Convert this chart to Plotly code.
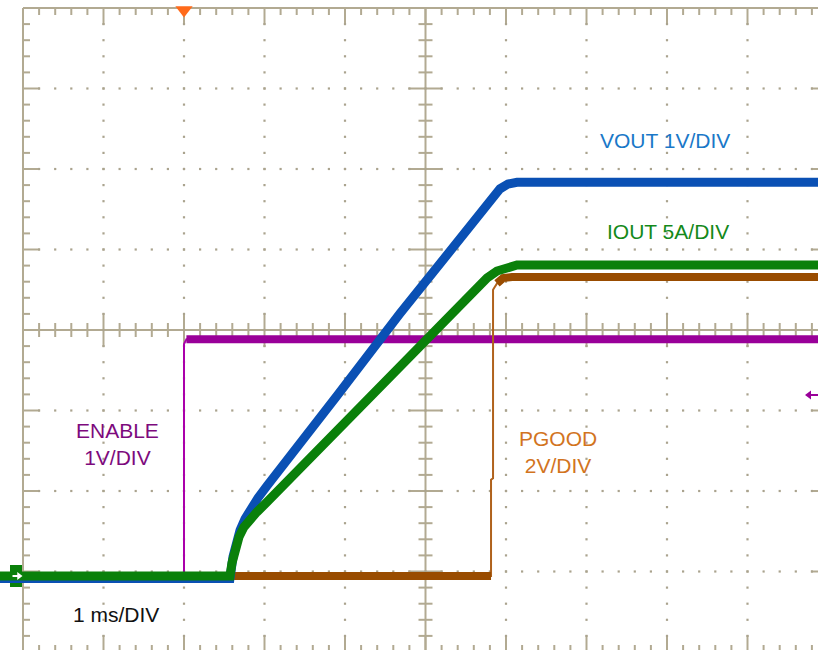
import plotly.graph_objects as go

# ---------------- data (oscilloscope capture) ----------------
# time base 1 ms/DIV, trigger at t = 0 ms
enable_t = [-2.3, 0.0, 0.0, 0.03, 7.9]
enable_v = [0.0, 0.0, 2.88, 2.94, 2.94]          # V, 1 V/DIV

vout_t = [-2.3, 0.571, 0.609, 0.646, 0.696, 0.758, 0.832, 0.919, 1.031, 1.168,
          1.317, 1.901, 2.683, 3.516, 3.926, 4.025, 4.137, 7.9]
vout_v = [-0.03, -0.03, 0.24, 0.41, 0.57, 0.71, 0.85, 0.97, 1.12, 1.29,
          1.48, 2.24, 3.26, 4.31, 4.81, 4.87, 4.89, 4.89]   # V, 1 V/DIV

iout_t = [-2.3, 0.571, 0.596, 0.634, 0.683, 0.745, 0.820, 0.907, 1.019, 1.217,
          1.901, 2.721, 3.553, 3.764, 3.888, 4.012, 4.137, 7.9]
iout_a = [0.0, 0.0, 0.81, 1.68, 2.42, 3.04, 3.54, 3.98, 4.53, 5.53,
          9.01, 13.17, 17.52, 18.51, 18.94, 19.19, 19.32, 19.32]  # A, 5 A/DIV

pgood_t = [-2.3, 3.814, 3.814, 3.839, 3.839, 3.888, 3.963, 4.075, 7.9]
pgood_v = [0.0, 0.0, 2.39, 2.43, 7.11, 7.27, 7.40, 7.43, 7.43]     # V, 2 V/DIV

ENABLE_SCALE, VOUT_SCALE, IOUT_SCALE, PGOOD_SCALE = 1.0, 1.0, 5.0, 2.0
GROUND_DIV = -3.056

labels = ["VOUT 1V/DIV", "IOUT 5A/DIV", "ENABLE<br>1V/DIV", "PGOOD<br>2V/DIV", "1 ms/DIV"]

# ---------------- geometry ----------------
W, H = 818, 650
PX_PER_DIV = 80.5
X0_PX, CY_PX = 184.0, 330.0       # trigger position / centre line in pixels
XMIN = -X0_PX / PX_PER_DIV
XMAX = (W - X0_PX) / PX_PER_DIV
YMAX = CY_PX / PX_PER_DIV
YMIN = (CY_PX - H) / PX_PER_DIV
GRID = "#b2aa92"
DOT = "#aaa38e"


def px(n):
    return n / PX_PER_DIV


fig = go.Figure()

# ---------------- graticule ----------------
seg_x, seg_y = [], []


def seg(x0, y0, x1, y1):
    seg_x.extend([x0, x1, None])
    seg_y.extend([y0, y1, None])


TL, TS = px(17), px(7)
TLEFT, TRIGHT, TTOP, TBOT = -2.0, 8.0, 4.0, -4.0
# borders
seg(TLEFT, TBOT, TLEFT, TTOP)
seg(TLEFT, TTOP, TRIGHT, TTOP)
seg(TRIGHT, TBOT, TRIGHT, TTOP)
seg(TLEFT, TBOT, TRIGHT, TBOT)
# centre cross
seg(3.0, TBOT, 3.0, TTOP)
seg(TLEFT, 0.0, TRIGHT, 0.0)
for i in range(51):
    t = TLEFT + 0.2 * i
    L = TL if i % 5 == 0 else TS
    seg(t, TTOP, t, TTOP - L)
    seg(t, TBOT, t, TBOT + L)
    seg(t, -L, t, L)
for j in range(41):
    y = TBOT + 0.2 * j
    L = TL if j % 5 == 0 else TS
    seg(TLEFT, y, TLEFT + L, y)
    seg(TRIGHT, y, TRIGHT - L, y)
    seg(3.0 - L, y, 3.0 + L, y)

fig.add_trace(go.Scatter(x=seg_x, y=seg_y, mode="lines",
                         line=dict(color=GRID, width=2), hoverinfo="skip"))

dx, dy = [], []
for k in range(1, 10):
    if k == 5:
        continue
    t = TLEFT + k
    for j in range(1, 40):
        dx.append(t)
        dy.append(TBOT + 0.2 * j)
for k in range(1, 8):
    if k == 4:
        continue
    y = TBOT + k
    for i in range(1, 50):
        dx.append(TLEFT + 0.2 * i)
        dy.append(y)
fig.add_trace(go.Scatter(x=dx, y=dy, mode="markers",
                         marker=dict(symbol="square", size=2.2, color=DOT, line=dict(width=0)),
                         hoverinfo="skip"))


# ---------------- waveforms ----------------
def to_div(vals, scale):
    return [GROUND_DIV + v / scale for v in vals]


BAND = 9

# channel ground marker (left), drawn below the traces
fig.add_shape(type="rect", x0=XMIN + px(10), x1=XMIN + px(23),
              y0=GROUND_DIV - px(11), y1=GROUND_DIV + px(11),
              fillcolor="#0a800a", line=dict(width=0), layer="below")

en_y = to_div(enable_v, ENABLE_SCALE)
fig.add_trace(go.Scatter(x=enable_t, y=en_y, mode="lines",
                         line=dict(color="#aa00aa", width=2), hoverinfo="skip"))
fig.add_trace(go.Scatter(x=enable_t[:2] + [None] + enable_t[3:],
                         y=en_y[:2] + [None] + en_y[3:], mode="lines",
                         line=dict(color="#990099", width=BAND - 1), hoverinfo="skip"))

pg_y = to_div(pgood_v, PGOOD_SCALE)
fig.add_trace(go.Scatter(x=pgood_t, y=pg_y, mode="lines",
                         line=dict(color="#b0621c", width=2), hoverinfo="skip"))
fig.add_trace(go.Scatter(x=pgood_t[:2] + [None] + pgood_t[5:],
                         y=pg_y[:2] + [None] + pg_y[5:], mode="lines",
                         line=dict(color="#994c00", width=BAND - 1), hoverinfo="skip"))

fig.add_trace(go.Scatter(x=vout_t, y=to_div(vout_v, VOUT_SCALE), mode="lines",
                         line=dict(color="#0a50b4", width=BAND), hoverinfo="skip"))
fig.add_trace(go.Scatter(x=iout_t, y=to_div(iout_a, IOUT_SCALE), mode="lines",
                         line=dict(color="#0a800a", width=BAND), hoverinfo="skip"))

# ---------------- markers ----------------
# trigger position marker (top)
fig.add_trace(go.Scatter(x=[0.0], y=[YMAX - px(10)], mode="markers",
                         marker=dict(symbol="triangle-down", size=15, color="#ff6a1a",
                                     line=dict(width=0)), hoverinfo="skip"))
# white arrow in the ground marker
fig.add_trace(go.Scatter(x=[XMIN + px(12.5), XMIN + px(18)], y=[GROUND_DIV, GROUND_DIV],
                         mode="lines", line=dict(color="white", width=2), hoverinfo="skip"))
fig.add_trace(go.Scatter(x=[XMIN + px(19)], y=[GROUND_DIV], mode="markers",
                         marker=dict(symbol="triangle-right", size=7, color="white",
                                     line=dict(width=0)), hoverinfo="skip"))
# right-side marker
fig.add_trace(go.Scatter(x=[XMIN + px(810), XMAX], y=[(CY_PX - 395) / PX_PER_DIV] * 2,
                         mode="lines", line=dict(color="#990099", width=2), hoverinfo="skip"))
fig.add_trace(go.Scatter(x=[XMIN + px(809)], y=[(CY_PX - 395) / PX_PER_DIV], mode="markers",
                         marker=dict(symbol="triangle-left", size=8, color="#990099",
                                     line=dict(width=0)), hoverinfo="skip"))

# ---------------- labels ----------------
FONT = "Liberation Sans, Arial, sans-serif"


def label(text, x_px, y_px, color):
    fig.add_annotation(text=text, x=x_px / W, y=1 - y_px / H, xref="paper", yref="paper",
                       showarrow=False, xanchor="center", yanchor="middle",
                       font=dict(family=FONT, size=21, color=color), align="center")


label(labels[0], 665, 141, "#1a78c8")
label(labels[1], 668, 232, "#14891a")
label(labels[2], 117, 444, "#7d0a7d")
label(labels[3], 558, 452, "#d2741e")
label(labels[4], 116, 614, "#111111")

fig.update_layout(
    width=W, height=H, margin=dict(l=0, r=0, t=0, b=0, pad=0),
    paper_bgcolor="white", plot_bgcolor="white", showlegend=False,
    xaxis=dict(range=[XMIN, XMAX], visible=False, fixedrange=True),
    yaxis=dict(range=[YMIN, YMAX], visible=False, fixedrange=True),
)

fig.write_html("out.html", config={"displayModeBar": False},
               post_script="document.body.style.margin='0';document.body.style.overflow='hidden';")
